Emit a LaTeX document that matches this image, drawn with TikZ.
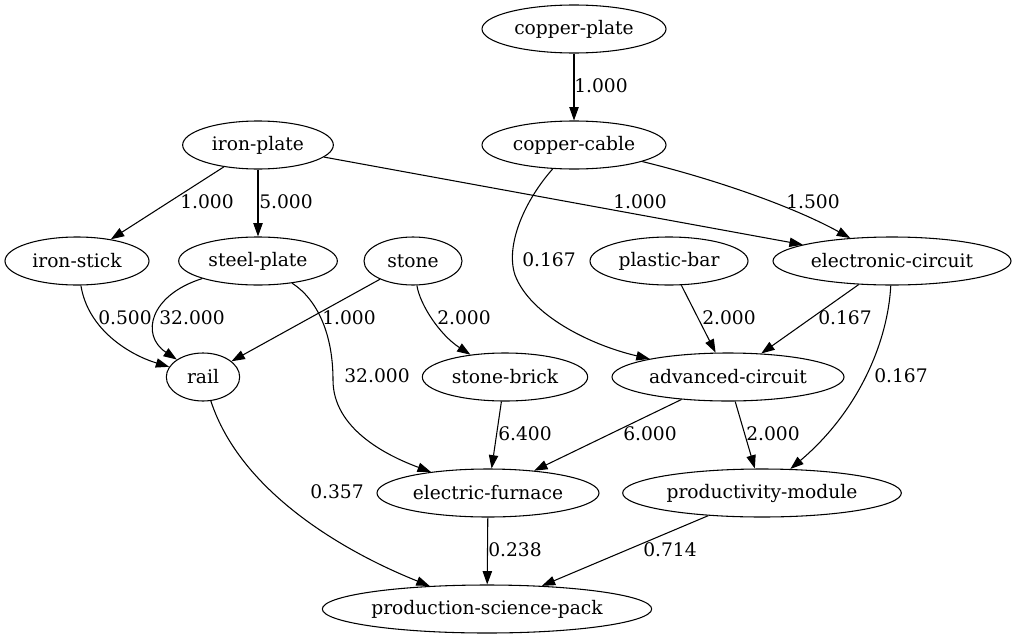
\documentclass[tikz,border=0pt]{standalone}
\usepackage{fontspec}
\setmainfont{DejaVu Serif}
\usetikzlibrary{shapes.geometric,arrows.meta}

\begin{document}
\begin{tikzpicture}[x=0.75pt,y=-0.75pt,
  every node/.style={font=\fontsize{14}{16}\selectfont},
  item/.style={ellipse,draw,line width=0.8pt,minimum width=#1,minimum height=36pt,inner sep=0pt},
  lbl/.style={inner sep=0pt},
  edge/.style={line width=0.8pt,-{Triangle[length=10pt,width=7pt]}}]
\useasboundingbox (0,0) rectangle (1016,639);

\node[item=138pt] (copperplate) at (574,29) {copper-plate};
\node[item=138pt] (coppercable) at (574,145) {copper-cable};
\node[item=113pt] (ironplate) at (258,145) {iron-plate};

\node[item=108pt] (ironstick) at (77,261) {iron-stick};
\node[item=119pt] (steelplate) at (258,261) {steel-plate};
\node[item=73.5pt] (stone) at (413,261) {stone};
\node[item=118.5pt] (plasticbar) at (669,261) {plastic-bar};
\node[item=178.5pt] (electronic) at (892,261) {electronic-circuit};

\node[item=55pt] (rail) at (203,377) {rail};
\node[item=124pt] (stonebrick) at (505,377) {stone-brick};
\node[item=174pt] (advanced) at (728,377) {advanced-circuit};

\node[item=166.5pt] (furnace) at (488,493) {electric-furnace};
\node[item=209pt] (module) at (762,493) {productivity-module};

\node[item=247pt] (sciencepack) at (487,609) {production-science-pack};

\draw[edge] (copperplate) -- (coppercable) node[lbl] at (601,86) {1.000};
\draw[edge] (ironplate) -- (ironstick) node[lbl] at (207,202) {1.000};
\draw[edge] (ironplate) -- (steelplate) node[lbl] at (286,202) {5.000};
\draw[edge] (ironplate) -- (electronic) node[lbl] at (640,202) {1.000};
\draw[edge] (coppercable) .. controls (710,178) and (790,205) .. (electronic) node[lbl] at (813,202) {1.500};
\draw[edge] (coppercable) .. controls (525,200) and (505,245) .. (515,275) .. controls (530,315) and (590,345) .. (advanced) node[lbl] at (549,260) {0.167};

\draw[edge] (ironstick) .. controls (88,330) and (130,355) .. (rail) node[lbl] at (125,318) {0.500};
\draw[edge] (steelplate) .. controls (150,295) and (140,335) .. (rail) node[lbl] at (192,318) {32.000};
\draw[edge] (stone) -- (rail) node[lbl] at (349,318) {1.000};
\draw[edge] (stone) .. controls (420,305) and (440,335) .. (stonebrick) node[lbl] at (464,318) {2.000};
\draw[edge] (plasticbar) -- (advanced) node[lbl] at (729,318) {2.000};
\draw[edge] (electronic) -- (advanced) node[lbl] at (845,318) {0.167};
\draw[edge] (steelplate) .. controls (318,300) and (333,335) .. (333,380) .. controls (333,428) and (385,455) .. (furnace) node[lbl] at (377,376) {32.000};
\draw[edge] (electronic) .. controls (888,340) and (860,410) .. (module) node[lbl] at (901,376) {0.167};

\draw[edge] (stonebrick) -- (furnace) node[lbl] at (525,434) {6.400};
\draw[edge] (advanced) -- (furnace) node[lbl] at (650,434) {6.000};
\draw[edge] (advanced) -- (module) node[lbl] at (773,434) {2.000};

\draw[edge] (rail) .. controls (240,490) and (340,550) .. (sciencepack) node[lbl] at (337,492) {0.357};
\draw[edge] (furnace) -- (sciencepack) node[lbl] at (515,550) {0.238};
\draw[edge] (module) -- (sciencepack) node[lbl] at (670,550) {0.714};
\end{tikzpicture}
\end{document}
